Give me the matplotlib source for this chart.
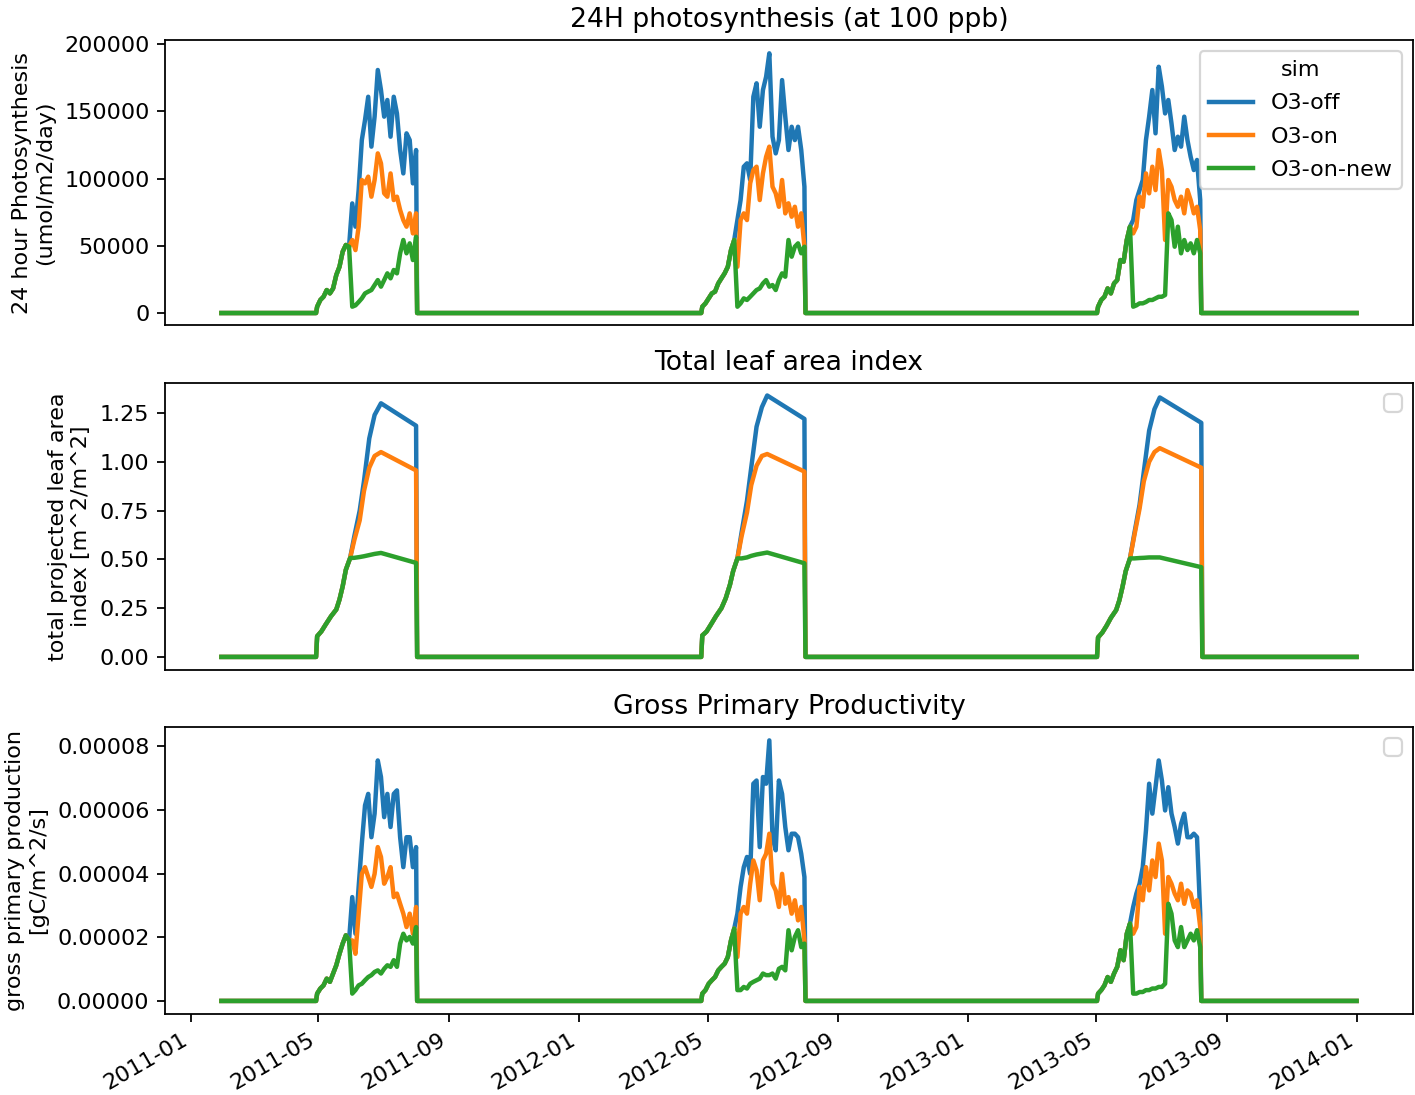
import numpy as np
import matplotlib
matplotlib.use('Agg')
import matplotlib.pyplot as plt
import matplotlib.dates as mdates

sims = ['O3-off', 'O3-on', 'O3-on-new']
t_first = np.datetime64('2011-01-30')
t_last = np.datetime64('2014-01-01')
season_start = ['2011-04-30', '2012-04-26', '2013-05-03']
step = 3  # days between the readings inside a growing season

# 24 hour photosynthesis (umol/m2/day): same for every sim until the O3 damage starts
psn_common = [
    [4700, 9700, 12100, 17100, 14600, 18300, 28300, 34400, 45600, 50600, 49300],
    [4700, 7200, 10900, 14600, 15900, 22000, 25800, 29500, 34400, 46800, 54300],
    [4700, 9700, 12100, 18300, 14600, 22000, 24500, 39400, 38200, 54300, 64200],
]
psn_off = [
    [81500, 64200, 91400, 128600, 143500, 160800, 123700, 146000, 180700, 165800, 146000,
     158400, 131100, 160800, 148400, 121200, 103800, 133600, 128600, 96400, 121200],
    [69100, 84000, 108800, 111300, 98900, 160800, 170800, 138500, 165800, 175700, 193100,
     131100, 118700, 128600, 173200, 146000, 121200, 138500, 128600, 138500, 121200, 93900],
    [69100, 84000, 91400, 98900, 128600, 146000, 165800, 133600, 183100, 168300, 148400,
     158400, 141000, 121200, 131100, 123700, 146000, 128600, 116200, 106300, 113800, 84000],
]
psn_on = [
    [54300, 46800, 64200, 98900, 96400, 101400, 86500, 98900, 118700, 111300, 89000,
     86500, 103800, 84000, 86500, 76600, 69100, 64200, 74100, 59200, 74100],
    [34400, 69100, 74100, 69100, 96400, 106300, 108800, 84000, 103800, 116200, 123700,
     93900, 89000, 79000, 98900, 74100, 81600, 71600, 79000, 64200, 74100, 49300],
    [59200, 64200, 86500, 79000, 103800, 89000, 108800, 91400, 121200, 106300, 54300,
     98900, 93900, 84000, 79000, 86500, 74100, 91400, 84000, 74100, 79000, 61700],
]
psn_new = [
    [4700, 5700, 8200, 10900, 14600, 15900, 17100, 20800, 24500, 19600, 24500,
     29500, 25800, 32000, 29500, 44400, 54300, 44400, 51800, 39400, 56700],
    [4700, 7200, 10900, 9700, 12100, 14600, 17100, 18300, 22000, 24500, 19600,
     20800, 17100, 24500, 29500, 27000, 54300, 41900, 49300, 51800, 44400, 49300],
    [4700, 5700, 7200, 7200, 8200, 9700, 9700, 10900, 12100, 12100, 13400,
     74100, 69100, 49300, 64200, 44400, 54300, 46800, 51800, 44400, 54300, 44400],
]

# leaf area index [m^2/m^2], read at the bends of the curves (day of season)
lai_days_common = [
    [0, 4, 8, 13, 18, 21, 24, 27, 31],
    [0, 4, 8, 13, 18, 22, 26, 29, 33],
    [0, 4, 8, 12, 17, 20, 23, 26, 30],
]
lai_common = [
    [0.106, 0.131, 0.166, 0.208, 0.243, 0.294, 0.362, 0.447, 0.507],
    [0.11, 0.13, 0.165, 0.21, 0.25, 0.30, 0.37, 0.44, 0.505],
    [0.10, 0.125, 0.16, 0.20, 0.24, 0.29, 0.36, 0.44, 0.505],
]
lai_days_split = [
    [35, 40, 44, 49, 54, 60, 93],
    [37, 42, 46, 51, 56, 61, 96],
    [34, 39, 43, 48, 53, 58, 97],
]
lai_off = [
    [0.62, 0.75, 0.90, 1.12, 1.24, 1.30, 1.185],
    [0.64, 0.80, 0.97, 1.18, 1.28, 1.34, 1.22],
    [0.63, 0.78, 0.95, 1.16, 1.27, 1.33, 1.20],
]
lai_on = [
    [0.60, 0.70, 0.85, 0.97, 1.03, 1.05, 0.956],
    [0.62, 0.74, 0.88, 0.98, 1.03, 1.04, 0.95],
    [0.62, 0.76, 0.90, 1.00, 1.05, 1.07, 0.97],
]
lai_new = [
    [0.508, 0.512, 0.516, 0.522, 0.528, 0.533, 0.482],
    [0.505, 0.51, 0.518, 0.525, 0.53, 0.535, 0.48],
    [0.505, 0.507, 0.508, 0.51, 0.51, 0.51, 0.46],
]

# gross primary production, in 1e-6 gC/m^2/s
gpp_common = [
    [2.3, 3.9, 4.9, 7.0, 6.0, 8.6, 11.2, 14.8, 18.0, 20.6, 19.0],
    [2.3, 3.4, 5.4, 6.5, 7.5, 9.6, 10.7, 11.7, 13.8, 19.0, 22.7],
    [2.3, 3.4, 4.9, 7.5, 6.0, 8.6, 10.7, 15.9, 12.8, 21.1, 24.3],
]
gpp_off = [
    [32.6, 21.1, 35.8, 49.4, 61.4, 65.0, 51.4, 58.8, 75.5, 70.3, 57.7,
     65.0, 54.6, 65.0, 66.1, 51.4, 42.0, 51.4, 51.4, 42.0, 48.3],
    [27.4, 35.8, 42.0, 45.2, 39.9, 68.2, 69.2, 48.3, 70.3, 68.2, 81.8,
     51.4, 47.3, 69.2, 65.0, 54.6, 47.3, 52.5, 52.5, 51.4, 46.2, 38.9],
    [29.5, 33.7, 36.8, 42.0, 53.5, 68.2, 58.8, 67.1, 75.5, 69.2, 59.8,
     67.1, 58.8, 54.6, 49.4, 55.6, 58.8, 51.4, 51.4, 52.5, 51.4, 27.4],
]
gpp_on = [
    [19.0, 14.8, 27.4, 39.9, 42.0, 38.9, 35.8, 39.9, 48.3, 45.2, 36.8,
     38.9, 42.0, 32.6, 33.7, 30.5, 27.4, 23.2, 27.4, 21.1, 29.5],
    [13.8, 27.4, 29.5, 27.4, 36.8, 44.1, 41.0, 31.6, 44.1, 46.2, 52.5,
     36.8, 34.7, 29.5, 39.9, 30.5, 32.6, 27.4, 31.6, 25.3, 29.5, 19.0],
    [21.1, 23.2, 35.8, 31.6, 42.0, 34.7, 44.1, 38.9, 49.4, 44.1, 21.1,
     38.9, 36.8, 33.7, 31.6, 36.8, 30.5, 34.7, 33.7, 29.5, 31.6, 23.2],
]
gpp_new = [
    [2.3, 3.4, 4.9, 5.4, 6.5, 7.5, 8.1, 9.1, 9.6, 8.6, 10.1,
     11.2, 10.7, 12.8, 10.7, 18.0, 21.1, 19.0, 20.1, 18.0, 23.2],
    [3.4, 3.4, 4.4, 3.9, 5.4, 6.0, 6.5, 7.0, 8.6, 8.1, 8.1,
     8.6, 7.0, 10.1, 10.7, 9.6, 22.2, 15.9, 20.1, 22.2, 16.9, 18.0],
    [2.3, 2.3, 2.8, 2.8, 3.4, 3.4, 3.9, 3.9, 4.4, 4.4, 5.4,
     30.5, 27.4, 19.0, 16.9, 23.2, 16.9, 19.0, 21.1, 19.0, 22.2, 16.9],
]


def run_series(common, own, days_common=None, days_own=None, scale=1.0):
    # zero outside the growing seasons, readings inside them
    t = [t_first]
    v = [0.0]
    for k in range(3):
        s = np.datetime64(season_start[k])
        vals = list(common[k]) + list(own[k])
        if days_common is None:
            days = [step * i for i in range(len(vals))]
        else:
            days = list(days_common[k]) + list(days_own[k])
        t.append(s - np.timedelta64(1, 'D'))
        v.append(0.0)
        for d, val in zip(days, vals):
            t.append(s + np.timedelta64(d, 'D'))
            v.append(val * scale)
        t.append(s + np.timedelta64(days[-1] + 1, 'D'))
        v.append(0.0)
    t.append(t_last)
    v.append(0.0)
    return np.array(t), np.array(v)


W, H = 1415, 1095
fig = plt.figure(figsize=(W / 160, H / 160), dpi=160)
colors = ['#1f77b4', '#ff7f0e', '#2ca02c']
lw = 2.0

def px_axes(top, bottom, sharex=None):
    return fig.add_axes([165 / W, 1 - bottom / H, (1413 - 165) / W, (bottom - top) / H],
                        sharex=sharex)

ax1 = px_axes(40, 325)
ax2 = px_axes(383, 670, sharex=ax1)
ax3 = px_axes(727, 1014, sharex=ax1)

for name, own, c in zip(sims, [psn_off, psn_on, psn_new], colors):
    t, v = run_series(psn_common, own)
    ax1.plot(t, v, color=c, lw=lw, label=name)
for own, c in zip([lai_off, lai_on, lai_new], colors):
    t, v = run_series(lai_common, own, lai_days_common, lai_days_split)
    ax2.plot(t, v, color=c, lw=lw)
for own, c in zip([gpp_off, gpp_on, gpp_new], colors):
    t, v = run_series(gpp_common, own, scale=1e-6)
    ax3.plot(t, v, color=c, lw=lw)

ax1.set_title('24H photosynthesis (at 100 ppb)', fontsize=12)
ax1.set_ylabel('24 hour Photosynthesis\n(umol/m2/day)')
ax1.set_ylim(-8900, 203000)
ax1.set_yticks([0, 50000, 100000, 150000, 200000])
ax1.legend(title='sim', loc='upper right', labelspacing=0.6)

ax2.set_title('Total leaf area index', fontsize=12)
ax2.set_ylabel('total projected leaf area\nindex [m^2/m^2]')
ax2.set_ylim(-0.067, 1.404)
ax2.set_yticks([0, 0.25, 0.5, 0.75, 1.0, 1.25])
ax2.yaxis.set_major_formatter(matplotlib.ticker.FormatStrFormatter('%.2f'))
ax2.legend(handles=[], loc='upper right')

ax3.set_title('Gross Primary Productivity', fontsize=12)
ax3.set_ylabel('gross primary production\n[gC/m^2/s]')
ax3.set_ylim(-4.1e-6, 8.6e-5)
ax3.set_yticks([0, 2e-5, 4e-5, 6e-5, 8e-5])
ax3.yaxis.set_major_formatter(matplotlib.ticker.FormatStrFormatter('%.5f'))
ax3.legend(handles=[], loc='upper right')

ax1.set_xlim(np.datetime64('2010-12-08'), np.datetime64('2014-02-23'))
ax3.xaxis.set_major_locator(mdates.MonthLocator(bymonth=[1, 5, 9]))
ax3.xaxis.set_major_formatter(mdates.DateFormatter('%Y-%m'))
for ax in [ax1, ax2]:
    ax.tick_params(axis='x', bottom=False, labelbottom=False)
for lab in ax3.get_xticklabels():
    lab.set_rotation(30)
    lab.set_ha('right')

fig.savefig('out.png', dpi=160)
